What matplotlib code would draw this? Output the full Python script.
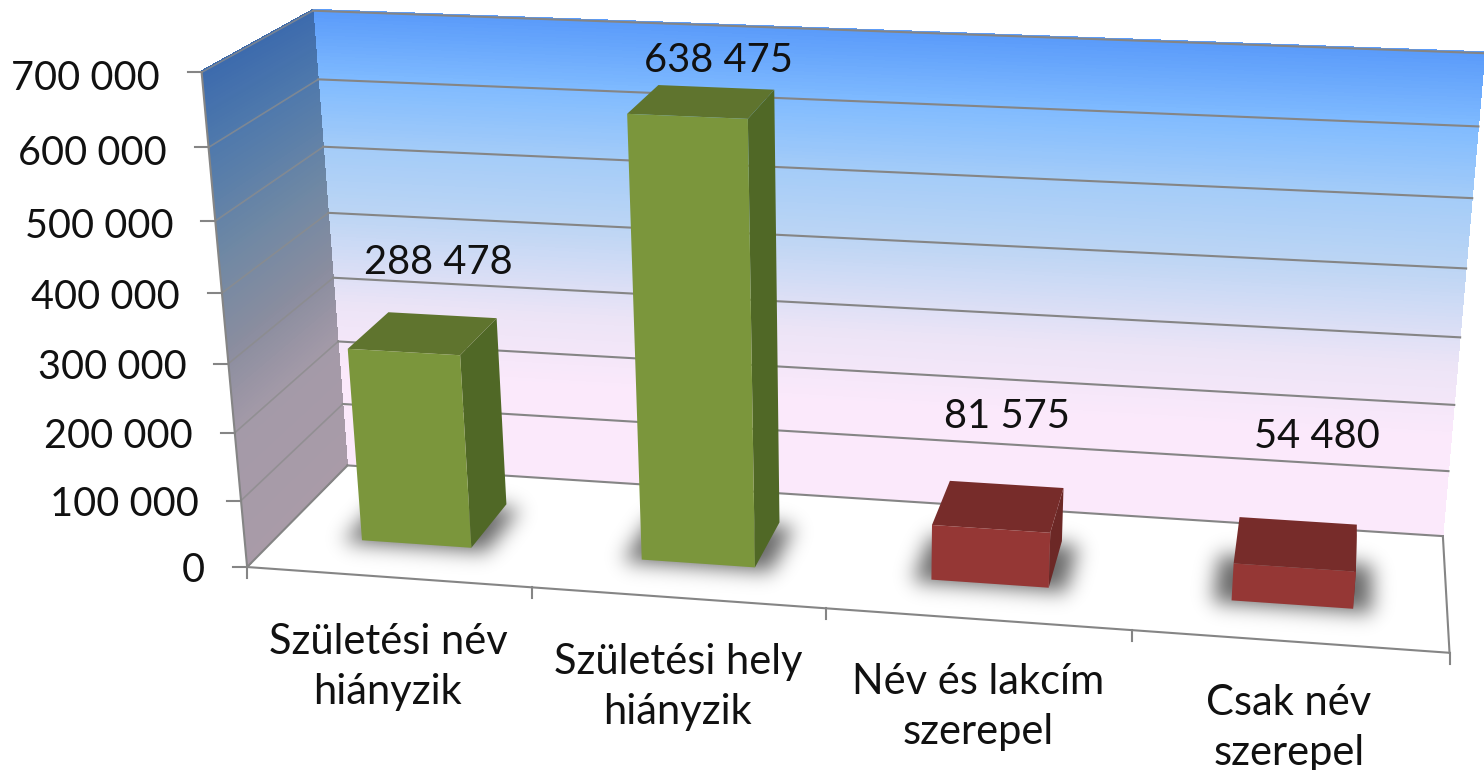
import numpy as np
import matplotlib
matplotlib.use('Agg')
import matplotlib.pyplot as plt
from matplotlib.collections import PolyCollection
from matplotlib.path import Path
from matplotlib.colors import to_rgb

plt.rcParams['font.family'] = ['Lato', 'DejaVu Sans']

categories = ['Születési név\nhiányzik', 'Születési hely\nhiányzik',
              'Név és lakcím\nszerepel', 'Csak név\nszerepel']
values = [288478, 638475, 81575, 54480]
value_labels = ['288 478', '638 475', '81 575', '54 480']
tick_values = [0, 100000, 200000, 300000, 400000, 500000, 600000, 700000]
tick_labels = ['0', '100 000', '200 000', '300 000', '400 000', '500 000', '600 000', '700 000']
front_colors = ['#7b963c', '#7b963c', '#953735', '#953735']
top_colors = ['#5f742e', '#5f742e', '#772c2a', '#772c2a']
side_colors = ['#506826', '#506826', '#6c2826', '#6c2826']

# where the chart box sits in the picture: category, value, depth -> pixel
calib = [
    (0, 700000, 0, 203, 72), (0, 600000, 0, 208, 147), (0, 500000, 0, 215, 220),
    (0, 0, 0, 247, 567), (1, 0, 0, 532, 588), (3, 0, 0, 1132, 631), (4, 0, 0, 1449, 653),
    (0, 700000, 1, 313, 11), (0, 600000, 1, 318, 80), (0, 500000, 1, 323, 147),
    (0, 400000, 1, 328, 213), (0, 0, 1, 348, 465),
    (4, 0, 1, 1443, 535), (4, 700000, 1, 1484, 53), (4, 600000, 1, 1479, 127),
    (4, 500000, 1, 1473, 198),
]


def fit_camera(points):
    rows = []
    for u, v, w, px, py in points:
        X = [u, v / 1e5, w, 1]
        px, py = px / 1000., py / 1000.
        rows.append(X + [0, 0, 0, 0] + [-px * c for c in X])
        rows.append([0, 0, 0, 0] + X + [-py * c for c in X])
    return np.linalg.svd(np.array(rows))[2][-1].reshape(3, 4)


P = fit_camera(calib)


def proj(u, v, w):
    X = np.array([u, v / 1e5, w, 1.])
    a = P @ X
    return a[0] / a[2] * 1000, a[1] / a[2] * 1000


def blend(stops, t):
    ts = [s[0] for s in stops]
    rgb = np.array([to_rgb(s[1]) for s in stops])
    return [np.interp(t, ts, rgb[:, i]) for i in range(3)]


back_stops = [(0, '#fbe9fb'), (150000, '#fbe9fb'), (260000, '#ece4f6'), (400000, '#bcd5f4'),
              (500000, '#a4ccf8'), (600000, '#80bbff'), (700000, '#5a9bfa')]
side_stops = [(0, '#a99ba8'), (200000, '#a49aa8'), (320000, '#8a8d9f'), (450000, '#6f88a4'),
              (600000, '#4f79ac'), (700000, '#3d6bad')]

fig = plt.figure(figsize=(14.84, 7.7), dpi=100)
ax = fig.add_axes([0, 0, 1, 1])
ax.set_xlim(0, 1484)
ax.set_ylim(770, 0)
ax.axis('off')

# walls, drawn as thin strips so the fade follows the perspective
steps = np.linspace(0, 700000, 141)
back, back_c, side, side_c = [], [], [], []
for a, b in zip(steps[:-1], steps[1:]):
    back.append([proj(0, a, 1), proj(4, a, 1), proj(4, b + 2000, 1), proj(0, b + 2000, 1)])
    back_c.append(blend(back_stops, (a + b) / 2))
    side.append([proj(0, a, 0), proj(0, a, 1), proj(0, b + 2000, 1), proj(0, b + 2000, 0)])
    side_c.append(blend(side_stops, (a + b) / 2))
ax.add_collection(PolyCollection(back, facecolors=back_c, edgecolors='none', antialiased=False, zorder=1))
ax.add_collection(PolyCollection(side, facecolors=side_c, edgecolors='none', antialiased=False, zorder=1))

grid = '#858585'
for t in tick_values[1:]:
    p0, p1, p2 = proj(0, t, 0), proj(0, t, 1), proj(4, t, 1)
    ax.plot([p1[0], p2[0]], [p1[1], p2[1]], color=grid, lw=1.5, zorder=2)
    ax.plot([p0[0], p1[0]], [p0[1], p1[1]], color='#8c8c8c', lw=1.2, alpha=0.75, zorder=2)

# floor outline and axes
for seg in [[(0, 0, 0), (4, 0, 0)], [(0, 0, 1), (4, 0, 1)], [(0, 0, 0), (0, 0, 1)],
            [(4, 0, 0), (4, 0, 1)], [(0, 0, 0), (0, 700000, 0)]]:
    a, b = proj(*seg[0]), proj(*seg[1])
    ax.plot([a[0], b[0]], [a[1], b[1]], color=grid, lw=1.5, zorder=2)
for t, lab in zip(tick_values, tick_labels):
    x, y = proj(0, t, 0)
    ax.plot([x - 14, x], [y, y], color=grid, lw=1.5, zorder=2)
    ax.text(x - 42, y + 3 + 3 * t / 700000., lab, ha='right', va='center', fontsize=28.5,
            color='#111111', zorder=6)
for i in range(5):
    x, y = proj(i, 0, 0)
    ax.plot([x, x], [y, y + 11], color=grid, lw=1.5, zorder=2)

# bar shadows on the floor
w_grid, h_grid = 1484, 770
yy, xx = np.mgrid[0:h_grid, 0:w_grid]
grid_pts = np.column_stack([xx.ravel() + 0.5, yy.ravel() + 0.5])
kernel = np.exp(-0.5 * (np.arange(-36, 37) / 10.) ** 2)
kernel /= kernel.sum()

bar_w = 0.395
depth0, depth1 = 0.3, 0.72
shadow = np.zeros((h_grid, w_grid))
for i in range(len(values)):
    u0, u1 = i + 0.5 - bar_w / 2, i + 0.5 + bar_w / 2
    foot = [proj(u0 - 0.06, 0, depth0 - 0.025), proj(u1 + 0.06, 0, depth0 - 0.025),
            proj(u1 + 0.06, 0, depth1 - 0.03), proj(u0 - 0.06, 0, depth1 - 0.03)]
    shadow += Path(foot).contains_points(grid_pts).reshape(h_grid, w_grid)
shadow = np.apply_along_axis(lambda r: np.convolve(r, kernel, mode='same'), 0, shadow)
shadow = np.apply_along_axis(lambda r: np.convolve(r, kernel, mode='same'), 1, shadow)
rgba = np.zeros((h_grid, w_grid, 4))
rgba[..., 3] = np.clip(shadow, 0, 1) * 0.6
ax.imshow(rgba, extent=(0, w_grid, h_grid, 0), interpolation='nearest', zorder=3, aspect='auto')
ax.set_xlim(0, 1484)
ax.set_ylim(770, 0)

# bars
for i, val in enumerate(values):
    u0, u1 = i + 0.5 - bar_w / 2, i + 0.5 + bar_w / 2
    fb0, fb1 = proj(u0, 0, depth0), proj(u1, 0, depth0)
    ft0, ft1 = proj(u0, val, depth0), proj(u1, val, depth0)
    bb1 = proj(u1, 0, depth1)
    bt0, bt1 = proj(u0, val, depth1), proj(u1, val, depth1)
    ax.fill(*zip(fb1, bb1, bt1, ft1), color=side_colors[i], lw=0, zorder=4)
    ax.fill(*zip(ft0, ft1, bt1, bt0), color=top_colors[i], lw=0, zorder=4)
    ax.fill(*zip(fb0, fb1, ft1, ft0), color=front_colors[i], lw=0, zorder=5)

# texts
label_pos = [(438, 262), (718, 60), (1007, 416), (1317, 436)]
for lab, (x, y) in zip(value_labels, label_pos):
    ax.text(x, y, lab, ha='center', va='center', fontsize=28.7, color='#111111', zorder=6)
cat_pos = [(388, 667), (678, 687), (978, 707), (1289, 728)]
for lab, (x, y) in zip(categories, cat_pos):
    ax.text(x, y, lab, ha='center', va='center', fontsize=30, linespacing=1.4,
            color='#111111', zorder=6)

fig.savefig('out.png', dpi=100)
